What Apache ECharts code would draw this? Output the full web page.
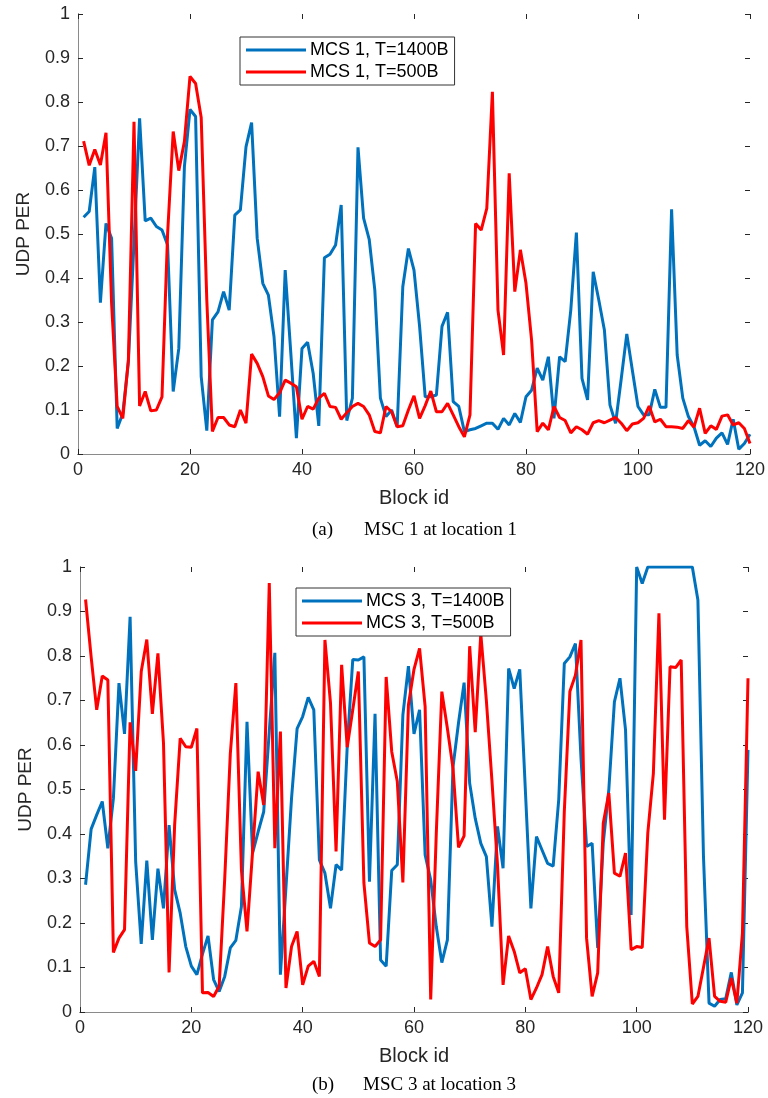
<!DOCTYPE html>
<html><head><meta charset="utf-8">
<script src="https://cdn.jsdelivr.net/npm/echarts@6/dist/echarts.min.js"></script>
<style>html,body{margin:0;padding:0;background:#fff}#c{width:768px;height:1098px}</style>
</head><body><div id="c"></div>
<script>
// Top panel (a): MCS 1 at location 1
const topBlue = [0.538,0.551,0.652,0.344,0.524,0.49,0.058,0.092,0.21,0.48,
0.763,0.53,0.536,0.517,0.509,0.475,0.142,0.24,0.653,0.783,
0.767,0.176,0.053,0.305,0.323,0.369,0.327,0.543,0.555,0.698,
0.753,0.49,0.388,0.361,0.267,0.085,0.418,0.23,0.036,0.24,
0.254,0.183,0.064,0.446,0.454,0.475,0.566,0.076,0.127,0.697,
0.536,0.488,0.373,0.127,0.085,0.1,0.062,0.38,0.467,0.418,
0.29,0.13,0.13,0.134,0.29,0.322,0.119,0.108,0.051,0.055,
0.058,0.064,0.07,0.07,0.056,0.081,0.066,0.092,0.072,0.13,
0.145,0.195,0.168,0.221,0.081,0.221,0.21,0.327,0.503,0.172,
0.123,0.414,0.35,0.282,0.111,0.07,0.17,0.273,0.19,0.108,
0.089,0.089,0.147,0.106,0.106,0.556,0.225,0.127,0.085,0.062,
0.02,0.03,0.017,0.036,0.048,0.022,0.079,0.011,0.024,0.045];
const topRed = [0.711,0.656,0.692,0.657,0.73,0.342,0.108,0.081,0.214,0.755,
0.109,0.142,0.098,0.1,0.13,0.5,0.733,0.644,0.71,0.858,
0.842,0.765,0.35,0.051,0.083,0.083,0.066,0.062,0.1,0.07,
0.227,0.206,0.176,0.132,0.124,0.139,0.168,0.161,0.153,0.079,
0.108,0.102,0.127,0.138,0.108,0.106,0.079,0.094,0.108,0.115,
0.108,0.089,0.051,0.048,0.108,0.096,0.062,0.064,0.1,0.132,
0.081,0.11,0.143,0.096,0.096,0.115,0.089,0.062,0.039,0.089,
0.524,0.509,0.558,0.823,0.327,0.225,0.638,0.369,0.464,0.388,
0.259,0.051,0.07,0.055,0.108,0.083,0.076,0.048,0.062,0.055,
0.045,0.071,0.076,0.071,0.077,0.083,0.07,0.053,0.068,0.071,
0.081,0.109,0.073,0.079,0.062,0.062,0.061,0.058,0.076,0.061,
0.104,0.047,0.064,0.056,0.086,0.089,0.066,0.071,0.058,0.024];
// Bottom panel (b): MCS 3 at location 3
const botBlue = [0.286,0.411,0.443,0.473,0.368,0.48,0.739,0.625,0.888,0.338,
0.153,0.34,0.162,0.322,0.233,0.42,0.275,0.222,0.147,0.103,
0.084,0.13,0.171,0.073,0.046,0.08,0.144,0.161,0.237,0.652,
0.357,0.405,0.45,0.63,0.807,0.084,0.28,0.48,0.637,0.664,
0.707,0.679,0.342,0.312,0.233,0.331,0.319,0.596,0.792,0.791,
0.798,0.293,0.67,0.117,0.103,0.318,0.331,0.667,0.777,0.625,
0.679,0.353,0.297,0.192,0.111,0.162,0.55,0.65,0.74,0.514,
0.435,0.379,0.349,0.192,0.417,0.323,0.772,0.727,0.77,0.5,
0.233,0.394,0.364,0.334,0.328,0.477,0.783,0.798,0.828,0.57,
0.372,0.379,0.144,0.38,0.5,0.697,0.75,0.634,0.218,1.0,
0.963,1.0,1.0,1.0,1.0,1.0,1.0,1.0,1.0,1.0,
0.926,0.35,0.02,0.013,0.028,0.03,0.089,0.016,0.043,0.589];
const botRed = [0.927,0.798,0.679,0.755,0.746,0.134,0.166,0.185,0.651,0.542,
0.765,0.837,0.67,0.806,0.604,0.089,0.42,0.615,0.596,0.595,
0.637,0.043,0.044,0.035,0.058,0.3,0.58,0.739,0.319,0.181,
0.36,0.54,0.465,0.964,0.368,0.63,0.054,0.147,0.181,0.061,
0.103,0.114,0.08,0.836,0.694,0.361,0.78,0.595,0.679,0.765,
0.29,0.155,0.147,0.162,0.753,0.585,0.518,0.291,0.69,0.77,
0.817,0.686,0.028,0.4,0.72,0.637,0.548,0.37,0.396,0.822,
0.629,0.85,0.7,0.52,0.33,0.061,0.171,0.136,0.088,0.097,
0.028,0.054,0.084,0.147,0.08,0.043,0.45,0.72,0.757,0.836,
0.166,0.035,0.088,0.424,0.492,0.312,0.305,0.357,0.14,0.147,
0.145,0.402,0.536,0.896,0.432,0.776,0.774,0.791,0.192,0.018,
0.035,0.1,0.166,0.035,0.024,0.022,0.076,0.02,0.177,0.75];
const seriesNames = ['MCS 1, T=1400B','MCS 1, T=500B','MCS 3, T=1400B','MCS 3, T=500B'];
const xTicks = [0,20,40,60,80,100,120];
const yTicks = [0,0.1,0.2,0.3,0.4,0.5,0.6,0.7,0.8,0.9,1];
const captions = [['(a)','MSC 1 at location 1'],['(b)','MSC 3 at location 3']];
const xLabel = 'Block id', yLabel = 'UDP PER';

const pairs = arr => arr.map((v,i)=>[i+1,v]);
const FONT = 'Liberation Sans';
const AX = '#262626';
const TL = 5; // tick length
const panels = [
  {left:78, top:14, width:672, height:440},
  {left:80, top:567, width:668, height:445}
];
const grids = [], xAxes = [], yAxes = [];
const xBase = {type:'value', min:xTicks[0], max:xTicks[xTicks.length-1], interval:xTicks[1]-xTicks[0], splitLine:{show:false}};
const yBase = {type:'value', min:yTicks[0], max:yTicks[yTicks.length-1], interval:0.1, splitLine:{show:false}};
const hidden = {axisLine:{show:false}, axisTick:{show:false}, axisLabel:{show:false}};
const ticksOnly = {axisLine:{show:false}, axisTick:{show:true, inside:false, length:TL, lineStyle:{color:AX,width:1}}, axisLabel:{show:false}};
panels.forEach((p)=>{
  // main grid
  let g = grids.length;
  grids.push({left:p.left, top:p.top, width:p.width, height:p.height});
  xAxes.push(Object.assign({}, xBase, {gridIndex:g, position:'bottom',
    name:xLabel, nameLocation:'middle', nameGap:34,
    nameTextStyle:{fontFamily:FONT, fontSize:20, color:AX},
    axisLine:{show:true, lineStyle:{color:AX,width:1}}, axisTick:{show:false},
    axisLabel:{fontFamily:FONT, fontSize:18, color:AX, margin:7}}));
  xAxes.push(Object.assign({}, xBase, {gridIndex:g, position:'top',
    axisLine:{show:true, lineStyle:{color:'#8a8a8a',width:1}}, axisTick:{show:false}, axisLabel:{show:false}}));
  yAxes.push(Object.assign({}, yBase, {gridIndex:g, position:'left',
    name:yLabel, nameLocation:'middle', nameGap:45,
    nameTextStyle:{fontFamily:FONT, fontSize:19, color:AX},
    axisLine:{show:true, lineStyle:{color:AX,width:1}}, axisTick:{show:false},
    axisLabel:{fontFamily:FONT, fontSize:18, color:AX, margin:8,
      formatter:v=>String(Math.round(v*10)/10)}}));
  yAxes.push(Object.assign({}, yBase, {gridIndex:g, position:'right',
    axisLine:{show:true, lineStyle:{color:'#8a8a8a',width:1}}, axisTick:{show:false}, axisLabel:{show:false}}));
  // grid inset vertically: its x-axis ticks point back into the main plot area
  let gx = grids.length;
  grids.push({left:p.left, top:p.top+TL, width:p.width, height:p.height-2*TL});
  xAxes.push(Object.assign({}, xBase, ticksOnly, {gridIndex:gx, position:'bottom'}));
  xAxes.push(Object.assign({}, xBase, ticksOnly, {gridIndex:gx, position:'top'}));
  yAxes.push(Object.assign({}, yBase, hidden, {gridIndex:gx}));
  // grid inset horizontally: its y-axis ticks point back into the main plot area
  let gy = grids.length;
  grids.push({left:p.left+TL, top:p.top, width:p.width-2*TL, height:p.height});
  yAxes.push(Object.assign({}, yBase, ticksOnly, {gridIndex:gy, position:'left'}));
  yAxes.push(Object.assign({}, yBase, ticksOnly, {gridIndex:gy, position:'right'}));
  xAxes.push(Object.assign({}, xBase, hidden, {gridIndex:gy}));
});
// axis indices of main grids
const xIdx = [0, 5], yIdx = [0, 5];
const mk = (name, data, color, pi) => ({name, type:'line', xAxisIndex:xIdx[pi], yAxisIndex:yIdx[pi],
  data:pairs(data), symbol:'none', lineStyle:{color, width:3}, itemStyle:{color}, animation:false});
const legendBase = {orient:'vertical', icon:'rect', itemWidth:60, itemHeight:3, itemGap:4,
  padding:[4,6,4,6], borderColor:'#333', borderWidth:1, backgroundColor:'#fff',
  textStyle:{fontFamily:FONT, fontSize:18, color:'#000', padding:[0,0,0,-1]}};
const chart = echarts.init(document.getElementById('c'), null, {renderer:'canvas'});
chart.setOption({
  animation:false,
  backgroundColor:'#fff',
  grid:grids,
  xAxis:xAxes, yAxis:yAxes,
  legend:[
    Object.assign({}, legendBase, {left:240, top:37, data:[seriesNames[0],seriesNames[1]]}),
    Object.assign({}, legendBase, {left:296, top:588, data:[seriesNames[2],seriesNames[3]]})
  ],
  series:[
    mk(seriesNames[0], topBlue, '#0072BD', 0),
    mk(seriesNames[1], topRed, '#FF0000', 0),
    mk(seriesNames[2], botBlue, '#0072BD', 1),
    mk(seriesNames[3], botRed, '#FF0000', 1)
  ],
  graphic:[
    {type:'text', left:312, top:521, style:{text:captions[0][0], font:'19px "Liberation Serif"', fill:'#000'}},
    {type:'text', left:364, top:521, style:{text:captions[0][1], font:'19px "Liberation Serif"', fill:'#000'}},
    {type:'text', left:312, top:1076, style:{text:captions[1][0], font:'19px "Liberation Serif"', fill:'#000'}},
    {type:'text', left:363, top:1076, style:{text:captions[1][1], font:'19px "Liberation Serif"', fill:'#000'}}
  ]
});
</script></body></html>
